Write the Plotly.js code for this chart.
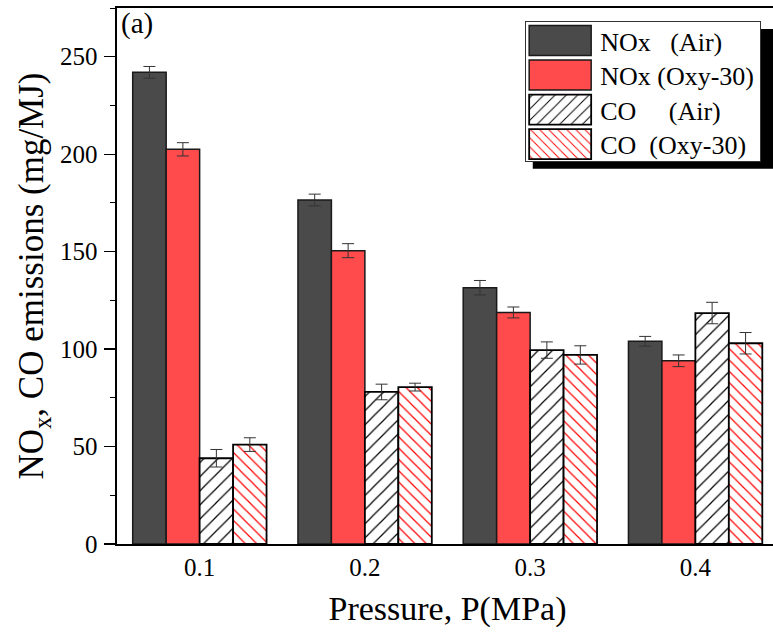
<!DOCTYPE html>
<html><head><meta charset="utf-8">
<script src="https://cdn.plot.ly/plotly-3.0.1.min.js"></script>
<style>html,body{margin:0;padding:0;overflow:hidden;background:#fff;}</style>
</head><body>
<div id="chart"></div>
<script>
const categories = ["0.1", "0.2", "0.3", "0.4"];
const noxAir = [242, 176.5, 131.5, 104];
const noxAirErr = [3, 3, 3.7, 2.5];
const noxOxy = [202.5, 150.5, 118.8, 94];
const noxOxyErr = [3.4, 3.6, 2.8, 3];
const coAir = [44, 78, 99.5, 118.5];
const coAirErr = [4.5, 4, 4.2, 5.5];
const coOxy = [51, 80.5, 97, 103];
const coOxyErr = [3.5, 2, 4.7, 5.5];
const seriesNames = ["NOx\u00A0\u00A0\u00A0(Air)", "NOx (Oxy-30)", "CO\u00A0\u00A0\u00A0\u00A0\u00A0(Air)", "CO\u00A0\u00A0(Oxy-30)"];

const F = "Liberation Serif";
const err = (a) => ({type: 'data', array: a, visible: true, color: '#333', thickness: 1, width: 6});
const line = {color: '#1a1a1a', width: 1.5};

const traces = [
  {type: 'bar', x: categories, y: noxAir, name: seriesNames[0], error_y: err(noxAirErr),
   marker: {color: '#4a4a4a', line: line}},
  {type: 'bar', x: categories, y: noxOxy, name: seriesNames[1], error_y: err(noxOxyErr),
   marker: {color: '#ff4b4b', line: line}},
  {type: 'bar', x: categories, y: coAir, name: seriesNames[2], error_y: err(coAirErr),
   marker: {color: '#ffffff', line: {color: '#000', width: 1.8},
            pattern: {shape: '/', fgcolor: '#000', bgcolor: '#fff', size: 10, solidity: 0.12}}},
  {type: 'bar', x: categories, y: coOxy, name: seriesNames[3], error_y: err(coOxyErr),
   marker: {color: '#ffffff', line: {color: '#000', width: 1.8},
            pattern: {shape: '\\', fgcolor: '#ff0000', bgcolor: '#fff', size: 8, solidity: 0.15}}}
];

const layout = {
  width: 790, height: 632,
  margin: {l: 117, r: 12, t: 8, b: 88},
  paper_bgcolor: '#fff', plot_bgcolor: '#fff',
  barmode: 'group', bargap: 0.19, bargroupgap: 0,
  font: {family: F, color: '#000'},
  showlegend: true,
  legend: {x: 0.6172, y: 0.9758, xanchor: 'left', yanchor: 'top', itemwidth: 64,
           bgcolor: '#fff', bordercolor: '#333', borderwidth: 1.2,
           font: {family: F, size: 26, color: '#000'}},
  xaxis: {type: 'category', range: [-0.5, 3.5], showline: true, linecolor: '#000', linewidth: 2.2,
          mirror: true, ticks: '', showgrid: false, zeroline: false,
          tickfont: {family: F, size: 25},
          title: {text: 'Pressure, P(MPa)', font: {family: F, size: 34}, standoff: 16}},
  yaxis: {range: [0, 275], dtick: 50, showline: true, linecolor: '#000', linewidth: 1.6,
          mirror: true, ticks: 'outside', ticklen: 11, tickwidth: 1.3, tickcolor: '#000',
          ticklabelstandoff: 2,
          minor: {dtick: 25, ticks: 'outside', ticklen: 5, tickwidth: 1, tickcolor: '#000'},
          showgrid: false, zeroline: false, tickfont: {family: F, size: 25},
          title: {text: 'NO<sub>x</sub>, CO emissions (mg/MJ)', font: {family: F, size: 35}, standoff: 5}},
  annotations: [{xref: 'paper', yref: 'paper', x: 0.003, y: 1.005, xanchor: 'left', yanchor: 'top',
                 text: '(a)', showarrow: false, font: {family: F, size: 29, color: '#000'}}],
  shapes: [{type: 'rect', xref: 'paper', yref: 'paper', x0: 0.629, x1: 1.0, y0: 0.700, y1: 0.961,
            fillcolor: '#000', line: {width: 0}, layer: 'above'}]
};

Plotly.newPlot('chart', traces, layout, {displayModeBar: false, staticPlot: true}).then(gd => {
  // enlarge legend swatches to the wide rectangles of the reference
  const paths = gd.querySelectorAll('.legend .traces .legendpoints path');
  paths.forEach(p => p.setAttribute('d', 'M-34,-15H28V15H-34Z'));
  // tighten legend rows to the reference pitch
  const bg = gd.querySelector('.legend rect.bg');
  if (!bg) return;
  const top = bg.getBoundingClientRect().top;
  gd.querySelectorAll('.legend .traces').forEach((it, i) => {
    const p = it.querySelector('.legendpoints path');
    if (!p) return;
    const r = p.getBoundingClientRect();
    const delta = (top + 19 + 34.5 * i) - (r.top + r.bottom) / 2;
    it.setAttribute('transform', (it.getAttribute('transform') || '') + ' translate(0,' + delta.toFixed(2) + ')');
  });
  bg.setAttribute('height', 140);
});
</script>
</body></html>
